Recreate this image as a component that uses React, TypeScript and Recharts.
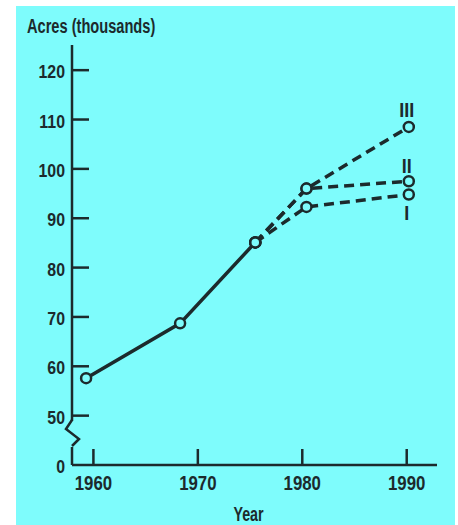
import React from 'react';
import { LineChart, Line, XAxis, YAxis } from 'recharts';

// values
const baseYears = [1959.3, 1968.3, 1975.5];
const baseAcres = [57.6, 68.7, 85.1];
const projYears = [1975.5, 1980.4, 1990.2];
const projI = [85.1, 92.3, 94.8];
const projII = [85.1, 96.0, 97.5];
const projIII = [85.1, 96.0, 108.5];

const yearTicks = [1960, 1970, 1980, 1990];
const acreTicks = [40, 50, 60, 70, 80, 90, 100, 110, 120];
const acreLabels = ['0', '50', '60', '70', '80', '90', '100', '110', '120'];

const INK = '#1c2a2c';
const BG = '#7efcfc';
const FONT = "'Liberation Sans', Arial, sans-serif";

const toPoints = (xs: number[], ys: number[]) => xs.map((year, i) => ({ year, acres: ys[i] }));

const baseData = toPoints(baseYears, baseAcres);
const dataI = toPoints(projYears, projI);
const dataII = toPoints(projYears, projII);
const dataIII = toPoints(projYears, projIII);

// condensed look: squeeze the text horizontally
const CText = ({ x, y, size, squeeze, anchor = 'middle', children }: any) => (
  <text
    transform={`translate(${x},${y}) scale(${squeeze},1)`}
    textAnchor={anchor}
    fill={INK}
    fontSize={size}
    fontWeight="bold"
    fontFamily={FONT}
  >
    {children}
  </text>
);

const BottomTick = ({ x, y, payload }: any) => (
  <g>
    <line x1={x} y1={y} x2={x} y2={y - 16} stroke={INK} strokeWidth={2.5} />
    <CText x={x} y={y + 25} size={21} squeeze={0.8}>
      {payload.value}
    </CText>
  </g>
);

const TopTick = ({ x, y }: any) => (
  <line x1={x} y1={y} x2={x} y2={y + 19} stroke={INK} strokeWidth={2.5} />
);

const LeftTick = ({ x, y, payload }: any) => {
  const idx = acreTicks.indexOf(payload.value);
  const isBreak = payload.value === acreTicks[0];
  return (
    <g>
      {isBreak ? (
        <>
          <rect x={x - 3} y={y - 44} width={6} height={26} fill={BG} />
          <path
            d={`M${x},${y - 45} L${x - 6},${y - 36} L${x + 7},${y - 26} L${x},${y - 19}`}
            fill="none"
            stroke={INK}
            strokeWidth={2.5}
          />
        </>
      ) : (
        <line x1={x} y1={y} x2={x + 17} y2={y} stroke={INK} strokeWidth={2.5} />
      )}
      <CText x={x - 7} y={y + 8} size={18.5} squeeze={0.86} anchor="end">
        {acreLabels[idx]}
      </CText>
    </g>
  );
};

const RightTick = ({ x, y, payload }: any) =>
  payload.value === acreTicks[0] ? <g /> : <line x1={x} y1={y} x2={x - 18} y2={y} stroke={INK} strokeWidth={2.5} />;

const seriesLabel = (text: string, dy: number) => (props: any) => {
  if (props.index !== projYears.length - 1) return <g key={`lbl-${text}-${props.index}`} />;
  return (
    <g key={`lbl-${text}`}>
      <CText x={props.x - 2} y={props.y + dy} size={20} squeeze={0.9}>
        {text}
      </CText>
    </g>
  );
};

const YearLabel = ({ viewBox }: any) => (
  <CText x={viewBox.x + viewBox.width / 2 - 6} y={viewBox.y + 56} size={21} squeeze={0.68}>
    Year
  </CText>
);

const dotStyle = { r: 5, fill: BG, stroke: INK, strokeWidth: 2.5, strokeDasharray: 'none' };

export default function App() {
  return (
    <div style={{ position: 'absolute', left: 0, top: 0, width: 458, height: 525, background: '#fff' }}>
      <div style={{ position: 'absolute', left: 16, top: 6, width: 439, height: 519, background: BG }} />
      <svg width={200} height={45} style={{ position: 'absolute', left: 0, top: 0 }}>
        <CText x={27} y={33} size={19.5} squeeze={0.75} anchor="start">
          Acres (thousands)
        </CText>
      </svg>
      <div style={{ position: 'absolute', left: 0, top: 0 }}>
        <LineChart width={458} height={525} margin={{ top: 45, right: 21, bottom: 0, left: 0 }}>
          <XAxis
            dataKey="year"
            type="number"
            domain={[1957.95, 1992.9]}
            allowDataOverflow
            ticks={yearTicks}
            height={60}
            tickSize={0}
            tickMargin={0}
            tickLine={false}
            axisLine={{ stroke: INK, strokeWidth: 2.5 }}
            tick={<BottomTick />}
            interval={0}
            label={<YearLabel />}
          />
          <XAxis
            xAxisId="top"
            orientation="top"
            dataKey="year"
            type="number"
            domain={[1957.95, 1992.9]}
            allowDataOverflow
            ticks={yearTicks}
            height={0}
            tickSize={0}
            tickMargin={0}
            tickLine={false}
            axisLine={{ stroke: INK, strokeWidth: 2.5 }}
            tick={<TopTick />}
            interval={0}
          />
          <YAxis
            dataKey="acres"
            type="number"
            domain={[40, 125.1]}
            allowDataOverflow
            ticks={acreTicks}
            width={72}
            tickSize={0}
            tickMargin={0}
            tickLine={false}
            axisLine={{ stroke: INK, strokeWidth: 2.5 }}
            tick={<LeftTick />}
            interval={0}
          />
          <YAxis
            yAxisId="right"
            orientation="right"
            dataKey="acres"
            type="number"
            domain={[40, 125.1]}
            allowDataOverflow
            ticks={acreTicks}
            width={0}
            tickSize={0}
            tickMargin={0}
            tickLine={false}
            axisLine={{ stroke: INK, strokeWidth: 2.5 }}
            tick={<RightTick />}
            interval={0}
          />
          <Line
            data={dataI}
            dataKey="acres"
            stroke={INK}
            strokeWidth={3.5}
            strokeDasharray="10 6"
            dot={dotStyle}
            activeDot={false}
            isAnimationActive={false}
            label={seriesLabel('I', 25)}
          />
          <Line
            data={dataII}
            dataKey="acres"
            stroke={INK}
            strokeWidth={3.5}
            strokeDasharray="10 6"
            dot={dotStyle}
            activeDot={false}
            isAnimationActive={false}
            label={seriesLabel('II', -8)}
          />
          <Line
            data={dataIII}
            dataKey="acres"
            stroke={INK}
            strokeWidth={3.5}
            strokeDasharray="10 6"
            dot={dotStyle}
            activeDot={false}
            isAnimationActive={false}
            label={seriesLabel('III', -10)}
          />
          <Line
            data={baseData}
            dataKey="acres"
            stroke={INK}
            strokeWidth={3.5}
            dot={dotStyle}
            activeDot={false}
            isAnimationActive={false}
          />
        </LineChart>
      </div>
    </div>
  );
}
